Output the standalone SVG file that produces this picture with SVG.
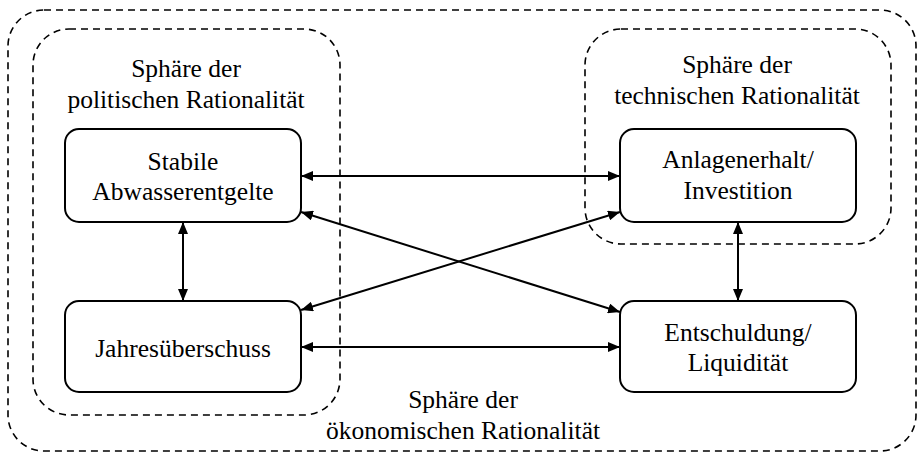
<svg xmlns="http://www.w3.org/2000/svg" width="918" height="454" viewBox="0 0 918 454">
<style>
.sphere{fill:none;stroke:#000;stroke-width:1.6;stroke-dasharray:7 5}
.node{fill:#fff;stroke:#000;stroke-width:2}
.c{stroke:#000;stroke-width:2;fill:none;marker-start:url(#ah);marker-end:url(#ah)}
text{font-family:'Liberation Serif','Times New Roman',serif;font-size:25.5px;text-anchor:middle;fill:#000}
</style>
<defs>
<marker id="ah" viewBox="0 0 12 10" refX="12" refY="5" markerWidth="12" markerHeight="10" markerUnits="userSpaceOnUse" orient="auto-start-reverse">
<path d="M0,0 L12,5 L0,10 Z" fill="#000"/>
</marker>
</defs>
<g id="sphere-oekonomisch">
<rect class="sphere" x="8" y="10" width="908" height="441" rx="36"/>
<text x="463" y="408">Sphäre der</text>
<text x="463" y="439">ökonomischen Rationalität</text>
</g>
<g id="sphere-politisch">
<rect class="sphere" x="33" y="29" width="307" height="386" rx="36"/>
<text x="186" y="77">Sphäre der</text>
<text x="186" y="108">politischen Rationalität</text>
</g>
<g id="sphere-technisch">
<rect class="sphere" x="585" y="29" width="306" height="215" rx="36"/>
<text x="737" y="73">Sphäre der</text>
<text x="737" y="104">technischen Rationalität</text>
</g>
<g id="connectors">
<line class="c" x1="301" y1="176" x2="620" y2="176"/>
<line class="c" x1="301" y1="347" x2="620" y2="347"/>
<line class="c" x1="183" y1="222" x2="183" y2="301"/>
<line class="c" x1="738" y1="222" x2="738" y2="301"/>
<line class="c" x1="301" y1="212" x2="620" y2="312"/>
<line class="c" x1="301" y1="310" x2="620" y2="212"/>
</g>
<g id="node-stabile">
<rect class="node" x="65" y="129" width="236" height="93" rx="14"/>
<text x="183" y="170">Stabile</text>
<text x="183" y="200">Abwasserentgelte</text>
</g>
<g id="node-jahres">
<rect class="node" x="65" y="301" width="236" height="91" rx="14"/>
<text x="183" y="357">Jahresüberschuss</text>
</g>
<g id="node-anlagen">
<rect class="node" x="620" y="129" width="236" height="93" rx="14"/>
<text x="738" y="168">Anlagenerhalt/</text>
<text x="738" y="199">Investition</text>
</g>
<g id="node-entschuldung">
<rect class="node" x="620" y="301" width="236" height="91" rx="14"/>
<text x="738" y="341">Entschuldung/</text>
<text x="738" y="371">Liquidität</text>
</g>
</svg>
